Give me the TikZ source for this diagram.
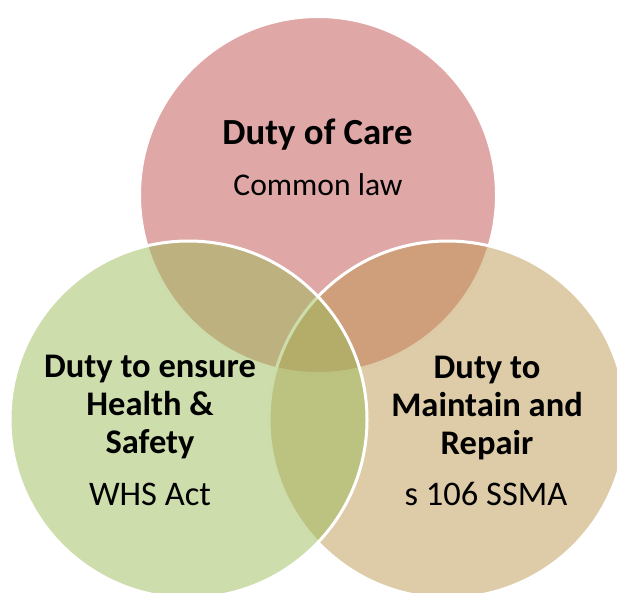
\documentclass[tikz,border=0pt]{standalone}
\usepackage{fontspec}
\setmainfont{Carlito}
\definecolor{carered}{HTML}{C0504D}
\definecolor{whsgreen}{HTML}{9BBB59}
\definecolor{ssmatan}{HTML}{BD9951}
\tikzset{
  venn/.style={circle,minimum size=357pt,inner sep=0pt,draw=white,line width=3pt,fill opacity=0.5},
  duty/.style={align=center,font=\bfseries\fontsize{34.5}{37.8}\selectfont,inner sep=0pt,anchor=base},
  law/.style={font=\fontsize{34.5}{37.8}\selectfont,inner sep=0pt,anchor=base}
}
\begin{document}
\begin{tikzpicture}[x=1pt,y=-1pt]
  \useasboundingbox (0,0) rectangle (617,592);
  \node[venn,fill=carered] (care) at (318,195) {}; % common law
  \node[venn,fill=ssmatan] (ssma) at (447.5,419.5) {}; % repair
  \node[venn,fill=whsgreen] (whs) at (188.5,419.5) {}; % health and safety
  \node[duty,font=\bfseries\fontsize{36.8}{40}\selectfont] (caretitle) at (317.5,144.5) {Duty of Care};
  \node[law,font=\fontsize{31.6}{37.8}\selectfont] (carelaw) at (318,195) {Common law};
  \node[duty] (whstitle) at (150,453.5) {Duty to ensure\\Health \&\\Safety};
  \node[law] (whslaw) at (150,505) {WHS Act};
  \node[duty] (ssmatitle) at (487,454) {Duty to\\Maintain and\\Repair};
  \node[law] (ssmalaw) at (486,505) {s 106 SSMA};
\end{tikzpicture}
\end{document}
